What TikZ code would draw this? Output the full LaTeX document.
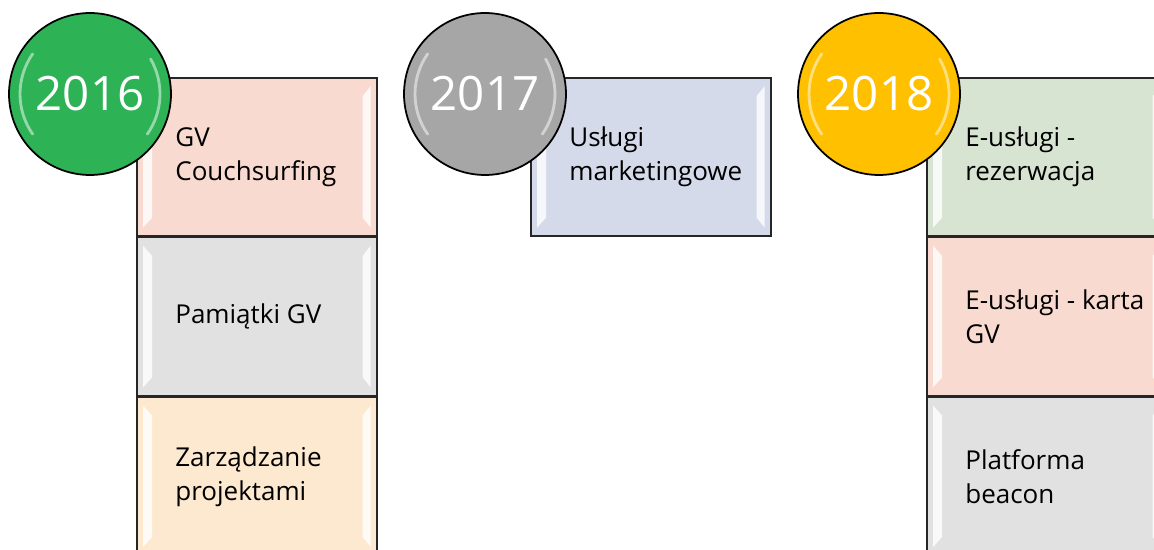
\documentclass[tikz,border=0pt]{standalone}
\usepackage{fontspec}
\setmainfont{Open Sans}
\usetikzlibrary{positioning,calc}

\definecolor{kolZielony}{RGB}{45,178,85}
\definecolor{kolSzary}{RGB}{166,166,166}
\definecolor{kolZloty}{RGB}{255,192,0}
\definecolor{polRoz}{RGB}{248,218,208}
\definecolor{polSzary}{RGB}{225,225,225}
\definecolor{polBrzoskw}{RGB}{253,233,208}
\definecolor{polLawenda}{RGB}{213,218,234}
\definecolor{polZielony}{RGB}{216,228,210}

% jasne paski po bokach pola
\newcommand{\fazka}[1]{
	\fill[white,opacity=0.8] ($(#1.north west)+(7,9)$) -- ($(#1.north west)+(16,19)$) -- ($(#1.south west)+(16,-19)$) -- ($(#1.south west)+(7,-9)$) -- cycle;
	\fill[white,opacity=0.8] ($(#1.north east)+(-7,9)$) -- ($(#1.north east)+(-15,19)$) -- ($(#1.south east)+(-15,-19)$) -- ($(#1.south east)+(-7,-9)$) -- cycle;
}
% polysk na kole
\newcommand{\polysk}[1]{
	\draw[white, line width=1.6pt, opacity=0.5, line cap=round] ($(#1)+(145:1.4cm)$) arc[start angle=145, end angle=215, radius=1.4cm];
	\draw[white, line width=1.6pt, opacity=0.5, line cap=round] ($(#1)+(-35:1.4cm)$) arc[start angle=-35, end angle=30, radius=1.4cm];
}

\begin{document}
\begin{tikzpicture}[x=0.02cm, y=-0.02cm,
	pole/.style={draw=black!85, line width=1pt, minimum width=4.8cm, minimum height=3.16cm, inner sep=0pt},
	opis/.style={anchor=west, align=left, inner sep=0pt, font=\fontsize{14.8}{19.3}\selectfont},
	rok/.style={circle, draw=black, line width=1pt, minimum size=3.24cm, inner sep=0pt, text=white, font=\fontsize{27}{30}\selectfont}]
				
				\useasboundingbox (0,0) rectangle (1154,550);
				\clip (0,0) rectangle (1154,550);
				
				% 2016
				\node[pole, fill=polRoz, anchor=north west] (b11) at (136,77) {};
				\node[pole, fill=polSzary, below=0pt of b11] (b12) {};
				\node[pole, fill=polBrzoskw, below=0pt of b12] (b13) {};
				% 2017
				\node[pole, fill=polLawenda, anchor=north west] (b21) at (530,77) {};
				% 2018
				\node[pole, fill=polZielony, anchor=north west] (b31) at (926,77) {};
				\node[pole, fill=polRoz, below=0pt of b31] (b32) {};
				\node[pole, fill=polSzary, below=0pt of b32] (b33) {};
				
				\fazka{b11} \fazka{b12} \fazka{b13}
				\fazka{b21}
				\fazka{b31} \fazka{b32} \fazka{b33}
				
				\node[opis] (t11) at ($(b11.west)+(39,0)$) {GV\\Couchsurfing};
				\node[opis] (t12) at ($(b12.west)+(39,0)$) {Pamiątki GV};
				\node[opis] (t13) at ($(b13.west)+(39,0)$) {Zarządzanie\\projektami};
				\node[opis] (t21) at ($(b21.west)+(39,0)$) {Usługi\\marketingowe};
				\node[opis] (t31) at ($(b31.west)+(39,0)$) {E-usługi -\\rezerwacja};
				\node[opis] (t32) at ($(b32.west)+(39,0)$) {E-usługi - karta\\GV};
				\node[opis] (t33) at ($(b33.west)+(39,0)$) {Platforma\\beacon};
				
				\node[rok, fill=kolZielony] (r1) at ($(b11.north west)+(-46,17)$) {2016};
				\node[rok, fill=kolSzary] (r2) at ($(b21.north west)+(-45,17)$) {2017};
				\node[rok, fill=kolZloty] (r3) at ($(b31.north west)+(-47,17)$) {2018};
				\polysk{r1} \polysk{r2} \polysk{r3}
			\end{tikzpicture}
\end{document}
